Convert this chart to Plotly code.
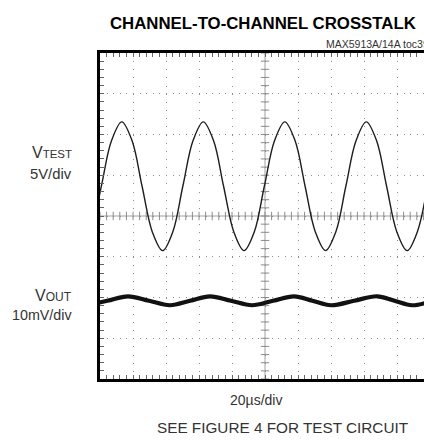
import numpy as np
import plotly.graph_objects as go

# ---- scope settings ----
US_PER_DIV = 20.0          # horizontal: 20 us/div
VTEST_V_PER_DIV = 5.0      # channel 1: 5 V/div
VOUT_MV_PER_DIV = 10.0     # channel 2: 10 mV/div
N_YDIV = 8
VTEST_BASE_DIV = 4.73      # trace zero levels, in divisions from the bottom
VOUT_BASE_DIV = 1.92

# ---- captured waveforms ----
vtest_t_us = [-11.5, -5.3, 0.8, 7.0, 13.2, 19.4, 25.5, 31.7, 37.9, 44.1, 50.2, 56.4,
              62.6, 68.8, 74.9, 81.1, 87.3, 93.5, 99.6, 105.8, 112.0, 118.2, 124.3,
              130.5, 136.7, 142.9, 149.0, 155.2, 161.4, 167.6, 173.7, 179.9, 186.1,
              192.3, 198.4]
vtest_v = [-7.9, -5.6, 0.0, 5.6, 7.9, 5.6, 0.0, -5.6, -7.9, -5.6, 0.0, 5.6,
           7.9, 5.6, 0.0, -5.6, -7.9, -5.6, 0.0, 5.6, 7.9, 5.6, 0.0,
           -5.6, -7.9, -5.6, 0.0, 5.6, 7.9, 5.6, 0.0, -5.6, -7.9,
           -5.6, 0.0]

vout_t_us = [-7.9, 4.5, 17.0, 29.7, 42.4, 54.6, 66.7, 79.4, 92.1, 104.9, 117.6,
             128.8, 140.0, 154.0, 167.9, 178.5, 189.1, 201.5]
vout_mv = [-1.1, 0.0, 1.1, 0.0, -1.1, 0.0, 1.1, 0.0, -1.1, 0.0, 1.1,
           0.0, -1.1, 0.0, 1.1, 0.0, -1.1, 0.0]

# ---- page geometry ----
W, H = 424, 441
ML, MR, MT, MB = 100, 0, 53, 62
PX_PER_XDIV = 33.0
X_MAX = (W - ML - MR) / PX_PER_XDIV * US_PER_DIV

vtest_div = [VTEST_BASE_DIV + v / VTEST_V_PER_DIV for v in vtest_v]
vout_div = [VOUT_BASE_DIV + v / VOUT_MV_PER_DIV for v in vout_mv]

GRID = "#8c8c8c"
TXT = "#333333"

fig = go.Figure()

# minor ticks along the centre cross of the graticule
cx = 5 * US_PER_DIV
hx = np.arange(0, X_MAX, US_PER_DIV / 5)
fig.add_trace(go.Scatter(
    x=hx, y=np.full(len(hx), N_YDIV / 2),
    mode="markers", hoverinfo="skip", showlegend=False,
    marker=dict(symbol="line-ns", size=6, line=dict(width=1, color=GRID))))
vy = np.arange(0, N_YDIV + 0.01, 0.2)
fig.add_trace(go.Scatter(
    x=np.full(len(vy), cx), y=vy,
    mode="markers", hoverinfo="skip", showlegend=False,
    marker=dict(symbol="line-ew", size=6, line=dict(width=1, color=GRID))))

fig.add_shape(type="line", x0=0, x1=X_MAX, y0=N_YDIV / 2, y1=N_YDIV / 2,
              line=dict(color="#a0a0a0", width=1), layer="below")
fig.add_shape(type="line", x0=cx, x1=cx, y0=0, y1=N_YDIV,
              line=dict(color="#a0a0a0", width=1), layer="below")

# channel traces
fig.add_trace(go.Scatter(x=vtest_t_us, y=vtest_div, mode="lines", showlegend=False,
                         line=dict(color="#1e1e1e", width=1.4, shape="spline", smoothing=1.0)))
fig.add_trace(go.Scatter(x=vout_t_us, y=vout_div, mode="lines", showlegend=False,
                         line=dict(color="#111111", width=4.2, shape="spline", smoothing=1.0)))

fig.update_xaxes(range=[0, X_MAX], dtick=US_PER_DIV, tick0=0,
                 showgrid=True, gridcolor=GRID, gridwidth=1, griddash="1px,7.15px",
                 showline=True, linecolor="black", linewidth=3, mirror="ticks",
                 ticks="inside", ticklen=4, tickcolor="#666", tickwidth=1,
                 minor=dict(dtick=US_PER_DIV / 5, ticks="inside", ticklen=4,
                            tickcolor="#666", tickwidth=1, showgrid=False),
                 showticklabels=False, zeroline=False, fixedrange=True)
fig.update_yaxes(range=[0, N_YDIV], dtick=1, tick0=0,
                 showgrid=True, gridcolor=GRID, gridwidth=1, griddash="1px,5.6px",
                 showline=True, linecolor="black", linewidth=3, mirror=False,
                 ticks="inside", ticklen=4, tickcolor="#666", tickwidth=1,
                 minor=dict(dtick=0.2, ticks="inside", ticklen=4,
                            tickcolor="#666", tickwidth=1, showgrid=False),
                 showticklabels=False, zeroline=False, fixedrange=True)


def paper(px, py):
    return (px - ML) / (W - ML - MR), (H - MB - py) / (H - MT - MB)


SANS = "Liberation Sans, Arial, sans-serif"


def label(text, px, py, size, xanchor="center", family=SANS, color=TXT, weight="normal"):
    x, y = paper(px, py)
    fig.add_annotation(text=text, x=x, y=y, xref="paper", yref="paper",
                       xanchor=xanchor, yanchor="middle", showarrow=False,
                       font=dict(family=family, size=size, color=color, weight=weight))


label("CHANNEL-TO-CHANNEL CROSSTALK", 263, 23, 16.8, color="black", weight="bold")
label("MAX5913A/14A toc39", 431, 43.5, 10.5, xanchor="right", color="#333")
label("V<span style='font-size:11.5px'>TEST</span>", 74, 152, 16, xanchor="right")
label("5V/div", 74, 174, 14.8, xanchor="right")
label("V<span style='font-size:12px'>OUT</span>", 74, 295, 16, xanchor="right")
label("10mV/div", 74, 315, 14.3, xanchor="right")
label("20µs/div", 256, 400, 14)
label("SEE FIGURE 4 FOR TEST CIRCUIT", 282, 427, 15.3)

fig.update_layout(width=W, height=H, margin=dict(l=ML, r=MR, t=MT, b=MB, pad=0),
                  paper_bgcolor="white", plot_bgcolor="white", showlegend=False)

fig.write_html("out.html", config={"displayModeBar": False})
